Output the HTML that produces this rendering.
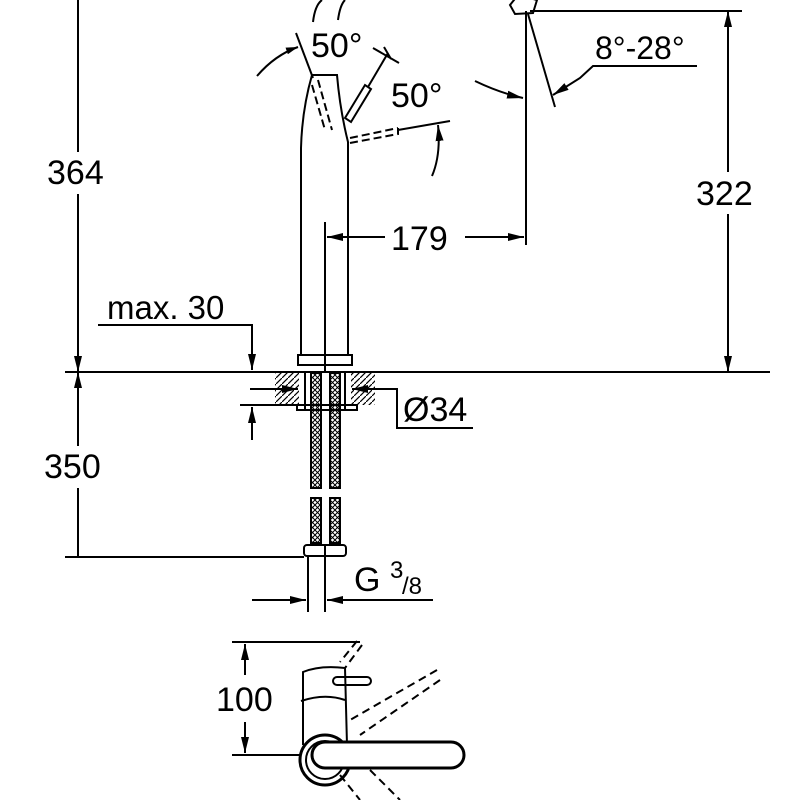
<!DOCTYPE html>
<html><head><style>body{margin:0;background:#fff}svg{display:block}text{font-family:"Liberation Sans",sans-serif;fill:#000}</style></head><body>
<svg width="800" height="800" viewBox="0 0 800 800" xmlns="http://www.w3.org/2000/svg">
<defs>
<marker id="a" markerWidth="12" markerHeight="7" refX="12" refY="3.5" orient="auto" markerUnits="userSpaceOnUse"><path d="M0,0 L12,3.5 L0,7z" fill="#000"/></marker>
<marker id="b" markerWidth="16" markerHeight="8" refX="16" refY="4" orient="auto" markerUnits="userSpaceOnUse"><path d="M0,0 L16,4 L0,8z" fill="#000"/></marker>
<pattern id="h" width="6" height="6" patternUnits="userSpaceOnUse"><path d="M0,6 L6,0" stroke="#000" stroke-width="1.2"/></pattern>
<pattern id="x" width="5" height="5" patternUnits="userSpaceOnUse"><path d="M0,5 L5,0 M0,0 L5,5" stroke="#000" stroke-width="1"/></pattern>
</defs>
<g stroke="#000" stroke-width="2" fill="none">
<line x1="65" y1="372" x2="770" y2="372"/>
<line x1="78" y1="0" x2="78" y2="557"/>
<line x1="78" y1="350" x2="78" y2="372" marker-end="url(#b)"/>
<line x1="78" y1="395" x2="78" y2="372" marker-end="url(#b)"/>
<line x1="530" y1="11" x2="742" y2="11"/>
<line x1="728" y1="372" x2="728" y2="11" marker-end="url(#b)"/>
<line x1="728" y1="300" x2="728" y2="372" marker-end="url(#b)"/>
<path d="M301,355 L301,148 Q302,110 312,75 L337,75 Q340,110 348,142 L348,355"/>
<path d="M313,22 Q315,5 322,0 M338,20 Q340,5 345,0"/>
<rect x="298" y="355" width="54" height="10"/>
<path d="M345,118 L365,85 L371,89 L351,122z"/>
<line x1="368" y1="87" x2="388" y2="53"/>
<path d="M373,48 L399,63 M384,47 L391,59"/>
<path d="M318,80 L332,130 M312,85 L325,130" stroke-dasharray="8,4"/>
<path d="M350,138 L398,128 M350,143 L398,134 L398,128" stroke-dasharray="8,4"/>
<line x1="398" y1="130" x2="450" y2="121"/>
<path d="M257,76 Q275,55 298,47" marker-end="url(#a)"/>
<line x1="296" y1="33" x2="313" y2="78"/>
<path d="M475,81 Q500,93 523,98" marker-end="url(#b)"/>
<path d="M432,176 Q441,155 438,125" marker-end="url(#b)"/>
<path d="M510,5 L518,-5 L537,0 L533,13 L515,14z"/>
<line x1="526" y1="11" x2="526" y2="245"/>
<line x1="528" y1="14" x2="555" y2="107"/>
<path d="M697,66 L593,66 L580,78 L553,95" marker-end="url(#b)"/>
<line x1="325" y1="222" x2="325" y2="372"/>
<line x1="385" y1="237" x2="327" y2="237" marker-end="url(#b)"/>
<line x1="465" y1="237" x2="524" y2="237" marker-end="url(#b)"/>
<path d="M98,325 L252,325 L252,370" marker-end="url(#b)"/>
<line x1="252" y1="440" x2="252" y2="407" marker-end="url(#b)"/>
<line x1="240" y1="405" x2="300" y2="405"/>
<line x1="250" y1="389" x2="298" y2="389" marker-end="url(#b)"/>
<line x1="375" y1="389" x2="352" y2="389" marker-end="url(#b)"/>
<path d="M375,389 L397,389 L397,428 L473,428"/>
<rect x="275" y="373" width="24" height="32" fill="url(#h)" stroke="none"/>
<rect x="351" y="373" width="24" height="32" fill="url(#h)" stroke="none"/>
<rect x="297" y="405" width="60" height="5"/>
<rect x="311" y="373" width="10" height="115" fill="url(#x)"/>
<rect x="330" y="373" width="10" height="115" fill="url(#x)"/>
<line x1="305" y1="373" x2="305" y2="410"/><line x1="345" y1="373" x2="345" y2="410"/>
<rect x="311" y="498" width="10" height="45" fill="url(#x)"/>
<rect x="330" y="498" width="10" height="45" fill="url(#x)"/>
<rect x="304" y="545" width="42" height="11" rx="3"/>
<line x1="325" y1="545" x2="325" y2="556"/>
<line x1="65" y1="557" x2="304" y2="557"/>
<line x1="308" y1="556" x2="308" y2="612"/>
<line x1="325" y1="556" x2="325" y2="612"/>
<line x1="252" y1="600" x2="306" y2="600" marker-end="url(#b)"/>
<line x1="433" y1="600" x2="327" y2="600" marker-end="url(#b)"/>
<line x1="232" y1="642" x2="360" y2="642"/>
<line x1="232" y1="755" x2="300" y2="755"/>
<line x1="245" y1="675" x2="245" y2="644" marker-end="url(#b)"/>
<line x1="245" y1="720" x2="245" y2="753" marker-end="url(#b)"/>
<path d="M303,745 L303,672 Q320,665 345,668 L347,745"/>
<path d="M301,701 Q325,693 345,700"/>
<rect x="333" y="677" width="38" height="8" rx="4"/>
<path d="M357,641 L340,662 M362,645 L345,668 M437,670 L350,720 M440,680 L360,735 M340,775 L360,800 M370,770 L400,800" stroke-dasharray="8,5"/>
<circle cx="325" cy="760" r="25" stroke-width="3"/>
<circle cx="325" cy="760" r="19"/>
<rect x="312" y="742" width="152" height="26" rx="13" fill="#fff" stroke-width="3"/>
</g>
<g font-size="34">
<text x="311" y="57">50°</text>
<text x="391" y="107">50°</text>
<text x="595" y="59" font-size="32">8°-28°</text>
<rect x="692" y="172" width="72" height="42" fill="#fff"/>
<text x="696" y="205">322</text>
<rect x="44" y="152" width="72" height="42" fill="#fff"/>
<text x="47" y="184">364</text>
<text x="391" y="250">179</text>
<text x="107" y="319" font-size="33">max. 30</text>
<text x="403" y="421">Ø34</text>
<rect x="42" y="446" width="72" height="42" fill="#fff"/>
<text x="44" y="478">350</text>
<text x="354" y="591">G</text>
<text x="390" y="578" font-size="24">3</text><text x="402" y="594" font-size="24">/8</text>
<rect x="214" y="680" width="66" height="42" fill="#fff"/>
<text x="216" y="711">100</text>
</g>
</svg>
</body></html>
